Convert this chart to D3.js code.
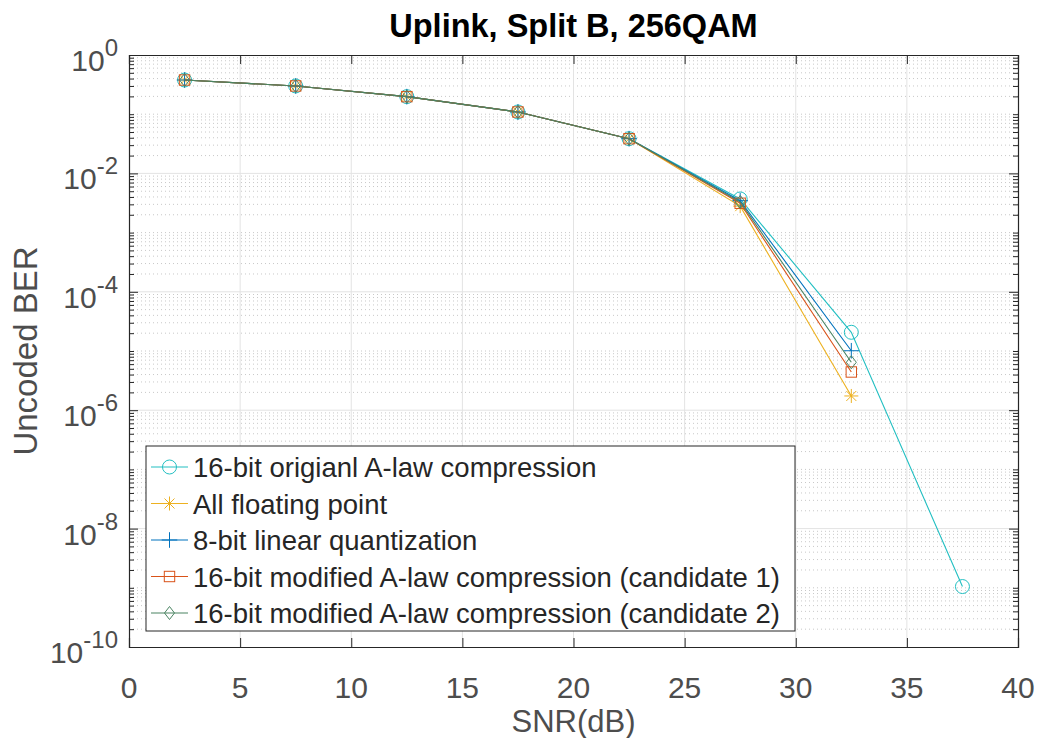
<!DOCTYPE html>
<html><head><meta charset="utf-8">
<script src="https://cdn.jsdelivr.net/npm/d3@7"></script>
<style>
body{margin:0;background:#fff;}
text{font-family:"Liberation Sans",Arial,sans-serif;}
</style></head>
<body><svg id="c" width="1037" height="738"></svg>
<script>
const snr = [2.5, 7.5, 12.5, 17.5, 22.5, 27.5, 32.5, 37.5];
const berOriginalALaw = [0.378, 0.30, 0.198, 0.109, 0.0386, 3.7e-3, 2.07e-5, 1.05e-9];
const berFloating = [0.378, 0.30, 0.198, 0.109, 0.0386, 2.8e-3, 1.74e-6];
const berLinear8 = [0.378, 0.30, 0.198, 0.109, 0.0386, 3.46e-3, 1.01e-5];
const berCand1 = [0.378, 0.30, 0.198, 0.109, 0.0386, 3.13e-3, 4.42e-6];
const berCand2 = [0.378, 0.30, 0.198, 0.109, 0.0386, 3.29e-3, 6.45e-6];
const seriesNames = ["16-bit origianl A-law compression","All floating point","8-bit linear quantization","16-bit modified A-law compression (candidate 1)","16-bit modified A-law compression (candidate 2)"];
const xTicks = [0,5,10,15,20,25,30,35,40];
const yTickExps = [0,-2,-4,-6,-8,-10];
const titleText = "Uplink, Split B, 256QAM";
const xLabel = "SNR(dB)";
const yLabel = "Uncoded BER";

const series = [
  {name: seriesNames[0], y: berOriginalALaw, color: "#22bfc2", marker: "circle"},
  {name: seriesNames[1], y: berFloating, color: "#edb120", marker: "asterisk"},
  {name: seriesNames[2], y: berLinear8, color: "#0072bd", marker: "plus"},
  {name: seriesNames[3], y: berCand1, color: "#d95319", marker: "square"},
  {name: seriesNames[4], y: berCand2, color: "#4a8462", marker: "diamond"}
];

const svg = d3.select("#c");
const L = 129, R = 1018, T = 55, B = 647;
const x = d3.scaleLinear().domain([0,40]).range([L,R]);
const y = d3.scaleLog().domain([1e-10,1]).range([B,T]);
const axisCol = "#262626", labCol = "#4d4d4d";

// grid
const g = svg.append("g");
const minorVals = [];
for (let e=-10; e<0; e++) for (let k=2;k<=9;k++) minorVals.push(k*Math.pow(10,e));
const oddDecades = [-1,-3,-5,-7,-9].map(e=>Math.pow(10,e));
g.selectAll(".mg").data(minorVals.concat(oddDecades)).enter().append("line")
  .attr("x1",L).attr("x2",R).attr("y1",d=>y(d)).attr("y2",d=>y(d))
  .attr("stroke","#c8c8c8").attr("stroke-width",1).attr("stroke-dasharray","1,3");
g.selectAll(".xg").data(xTicks.slice(1,-1)).enter().append("line")
  .attr("x1",d=>x(d)).attr("x2",d=>x(d)).attr("y1",T).attr("y2",B)
  .attr("stroke","#e3e3e3").attr("stroke-width",1);
g.selectAll(".yg").data(yTickExps.slice(1,-1).map(e=>Math.pow(10,e))).enter().append("line")
  .attr("x1",L).attr("x2",R).attr("y1",d=>y(d)).attr("y2",d=>y(d))
  .attr("stroke","#e3e3e3").attr("stroke-width",1);

// axes with inward ticks
const ax = svg.append("g");
const xb = d3.axisBottom(x).tickValues(xTicks).tickSize(-9).tickFormat("");
const xt = d3.axisTop(x).tickValues(xTicks).tickSize(-9).tickFormat("");
ax.append("g").attr("transform",`translate(0,${B})`).call(xb);
ax.append("g").attr("transform",`translate(0,${T})`).call(xt);
const majorY = yTickExps.map(e=>Math.pow(10,e));
const yl = d3.axisLeft(y).tickValues(majorY).tickSize(-9).tickFormat("");
const yr = d3.axisRight(y).tickValues(majorY).tickSize(-9).tickFormat("");
ax.append("g").attr("transform",`translate(${L},0)`).call(yl);
ax.append("g").attr("transform",`translate(${R},0)`).call(yr);
const ylm = d3.axisLeft(y).tickValues(minorVals.concat(oddDecades)).tickSize(-5).tickFormat("");
const yrm = d3.axisRight(y).tickValues(minorVals.concat(oddDecades)).tickSize(-5).tickFormat("");
ax.append("g").attr("transform",`translate(${L},0)`).call(ylm).select(".domain").remove();
ax.append("g").attr("transform",`translate(${R},0)`).call(yrm).select(".domain").remove();
ax.selectAll(".domain").attr("stroke",axisCol).attr("stroke-width",1.2);
ax.selectAll(".tick line").attr("stroke",axisCol).attr("stroke-width",1);

// tick labels
svg.selectAll(".xl").data(xTicks).enter().append("text")
  .attr("x",d=>x(d)).attr("y",B+51).attr("text-anchor","middle")
  .attr("font-size",30).attr("fill",labCol).text(d=>d);
const ylab = svg.selectAll(".yl").data(yTickExps).enter().append("text")
  .attr("x",L-11).attr("y",d=>y(Math.pow(10,d))+16).attr("text-anchor","end")
  .attr("font-size",30).attr("fill",labCol);
ylab.append("tspan").text("10");
ylab.append("tspan").attr("dy",-15).attr("font-size",24).text(d=>String(d));

// titles
svg.append("text").attr("x",(L+R)/2).attr("y",37).attr("text-anchor","middle")
  .attr("font-size",32.5).attr("font-weight","bold").attr("fill","#000").text(titleText);
svg.append("text").attr("x",(L+R)/2).attr("y",732).attr("text-anchor","middle")
  .attr("font-size",31).attr("fill",labCol).text(xLabel);
svg.append("text").attr("transform",`translate(37,${(T+B)/2}) rotate(-90)`).attr("text-anchor","middle")
  .attr("font-size",33).attr("fill",labCol).text(yLabel);

// marker drawing
function drawMarker(sel, type, color){
  if (type==="circle") sel.append("circle").attr("r",7).attr("fill","none").attr("stroke",color);
  else if (type==="square") sel.append("rect").attr("x",-5.2).attr("y",-5.2).attr("width",10.4).attr("height",10.4).attr("fill","none").attr("stroke",color);
  else if (type==="diamond") sel.append("path").attr("d","M0,-6.5L5,0L0,6.5L-5,0Z").attr("fill","none").attr("stroke",color);
  else if (type==="plus") sel.append("path").attr("d","M-7.8,0H7.8M0,-7.8V7.8").attr("fill","none").attr("stroke",color);
  else if (type==="asterisk") sel.append("path").attr("d","M-7,0H7M0,-7V7M-5,-5L5,5M-5,5L5,-5").attr("fill","none").attr("stroke",color);
}

const line = d3.line().x((d,i)=>x(snr[i])).y(d=>y(d));
const plot = svg.append("g");
series.forEach(s=>{
  plot.append("path").datum(s.y).attr("d",line).attr("fill","none").attr("stroke",s.color).attr("stroke-width",1.1);
  s.y.forEach((v,i)=>{
    const m = plot.append("g").attr("transform",`translate(${x(snr[i])},${y(v)})`);
    drawMarker(m, s.marker, s.color);
  });
});

// legend
const lg = svg.append("g");
lg.append("rect").attr("x",146).attr("y",446).attr("width",649).attr("height",185)
  .attr("fill","#fff").attr("stroke","#262626").attr("stroke-width",1);
series.forEach((s,i)=>{
  const yy = 467 + i*36.5;
  lg.append("line").attr("x1",151).attr("x2",188).attr("y1",yy).attr("y2",yy).attr("stroke",s.color).attr("stroke-width",1.1);
  const m = lg.append("g").attr("transform",`translate(169.5,${yy})`);
  drawMarker(m, s.marker, s.color);
  lg.append("text").attr("x",193).attr("y",yy+10).attr("font-size",27.5).attr("fill","#262626").text(s.name);
});
</script></body></html>
